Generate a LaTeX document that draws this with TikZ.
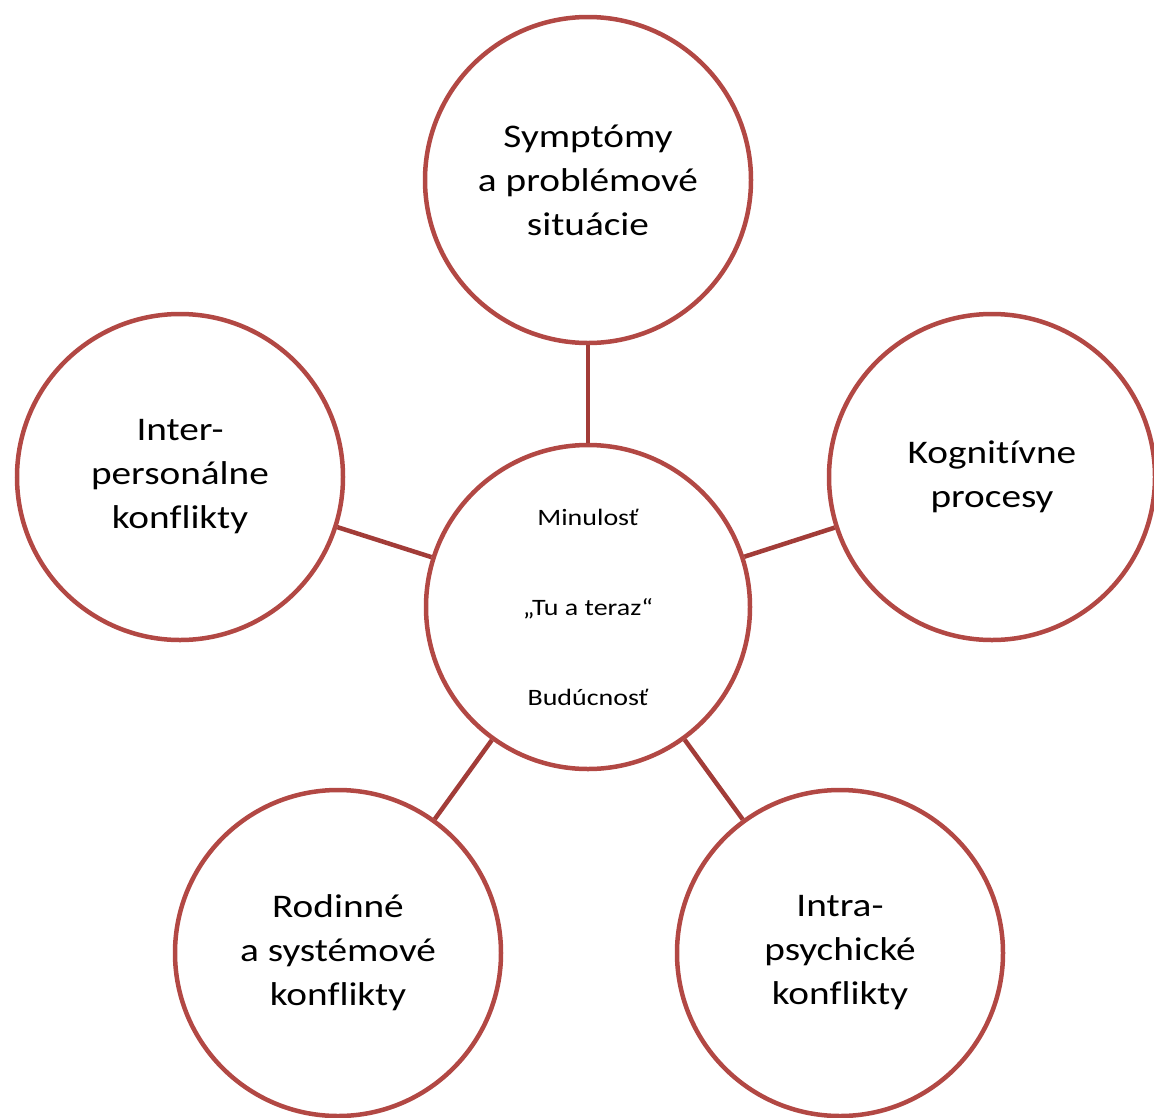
\documentclass[tikz,border=0pt]{standalone}
\usepackage{fontspec}
\setmainfont{Carlito}[FakeStretch=1.19, Ligatures=NoCommon]
\begin{document}
\definecolor{ringred}{RGB}{178,72,68}
\definecolor{linkred}{RGB}{162,60,56}
\begin{tikzpicture}[x=1pt,y=-1pt,
  ring/.style={circle, draw=ringred, line width=4.5pt, minimum size=326pt, inner sep=0pt, align=center,
    font=\fontsize{33}{44}\selectfont},
  hub/.style={circle, draw=ringred, line width=4.5pt, minimum size=324pt, inner sep=0pt, align=center,
    font=\fontsize{23.5}{90}\selectfont},
  link/.style={draw=linkred, line width=4.5pt}]
\useasboundingbox (0,0) rectangle (1154,1117);
\node[hub]  (hub)   at (588,607) {Minulosť\\„Tu a teraz“\\Budúcnosť};
\node[ring] (top)   at (588,180) {Symptómy\\a problémové\\situácie};
\node[ring] (left)  at (180,477) {Inter-\\personálne\\konflikty};
\node[ring] (right) at (992,477) {Kognitívne\\procesy};
\node[ring] (bl)    at (338,953) {Rodinné\\a systémové\\konflikty};
\node[ring] (br)    at (840,953) {Intra-\\psychické\\konflikty};
\draw[link] (hub) -- (top);
\draw[link] (hub) -- (left);
\draw[link] (hub) -- (right);
\draw[link] (hub) -- (bl);
\draw[link] (hub) -- (br);
\end{tikzpicture}
\end{document}
